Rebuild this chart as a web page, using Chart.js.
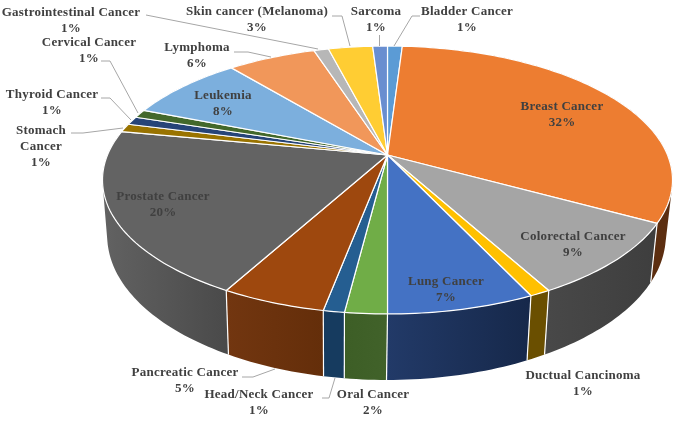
<!DOCTYPE html>
<html>
<head>
<meta charset="utf-8">
<title>Cancer types</title>
<script src="https://cdn.jsdelivr.net/npm/chart.js@4"></script>
<style>
	html, body { margin: 0; padding: 0; background: #fff; }
	canvas { display: block; }
</style>
</head>
<body>
<canvas id="pie3d" width="677" height="421"></canvas>
<script>
const categories = ['Bladder Cancer', 'Breast Cancer', 'Colorectal Cancer', 'Ductual Cancinoma', 'Lung Cancer', 'Oral Cancer', 'Head/Neck Cancer', 'Pancreatic Cancer', 'Prostate Cancer', 'Stomach Cancer', 'Thyroid Cancer', 'Cervical Cancer', 'Leukemia', 'Lymphoma', 'Gastrointestinal Cancer', 'Skin cancer (Melanoma)', 'Sarcoma'];
const shares = [1, 32, 9, 1, 7, 2, 1, 5, 20, 1, 1, 1, 8, 6, 1, 3, 1];
const topColors = ['#5B9BD5', '#ED7D31', '#A5A5A5', '#FFC000', '#4472C4', '#70AD47', '#255E91', '#9E480E', '#636363', '#997300', '#264478', '#43682B', '#7CAFDD', '#F1975A', '#B7B7B7', '#FFCD33', '#698ED0'];
const wallStart = ['#3a6488', '#5c2e10', '#3e3e3e', '#6a4f00', '#16284a', '#41622a', '#163b5f', '#642e0a', '#4a4a4a', '#5c4500', '#16294a', '#2a4119', '#4a6a86', '#914f22', '#6e6e6e', '#997a1e', '#3f567d'];
const wallEnd = ['#3a6488', '#5c2e10', '#484848', '#6a4f00', '#223a68', '#3d5e26', '#163b5f', '#723610', '#626262', '#5c4500', '#16294a', '#2a4119', '#4a6a86', '#914f22', '#6e6e6e', '#997a1e', '#3f567d'];

// label text lines, anchor = centre x / centre y of the first line
const labelLines = {
	'Stomach Cancer': ['Stomach', 'Cancer']
};
const labelAnchors = {
	'Bladder Cancer': [467, 12], 'Breast Cancer': [562, 107], 'Colorectal Cancer': [573, 237],
	'Ductual Cancinoma': [583, 376], 'Lung Cancer': [446, 282], 'Oral Cancer': [373, 395],
	'Head/Neck Cancer': [259, 395], 'Pancreatic Cancer': [185, 373], 'Prostate Cancer': [163, 197],
	'Stomach Cancer': [41, 131], 'Thyroid Cancer': [52, 95], 'Cervical Cancer': [89, 43],
	'Leukemia': [223, 96], 'Lymphoma': [197, 48], 'Gastrointestinal Cancer': [71, 13],
	'Skin cancer (Melanoma)': [257, 12], 'Sarcoma': [376, 12]
};
const leaderLines = [
	[[146, 15], [318, 49]],
	[[332, 16], [342, 16], [350, 46]],
	[[379.5, 35], [379.5, 46]],
	[[420, 16], [412, 16], [394, 46]],
	[[101, 61], [110, 61], [138, 113]],
	[[101, 98], [110, 98], [131, 120]],
	[[71, 133], [83, 133], [123, 128]],
	[[234, 52], [248, 52], [271, 57]],
	[[242, 377], [253, 377], [275, 369]],
	[[322, 398], [329, 398], [335, 378]]
];

// perspective of the pie disc
const view = { cx: 387.5, cy: 155, R: 280, K: 129.3, p: 0.1866 };
const wall = { cx: 386.5, xScale: 0.98, yScale: 1.077, yShift: 41.8 };

function projectTop(u, v) {
	const s = 1 / (1 - view.p * v);
	return [view.cx + view.R * u * s, view.cy + view.K * v * s];
}

function projectBottom(pt) {
	return [wall.cx + wall.xScale * (pt[0] - view.cx), wall.yScale * pt[1] + wall.yShift];
}

// rim points of one arc element, from the angles Chart.js worked out
function rimPoints(arc) {
	const pts = [];
	const steps = Math.max(2, Math.ceil((arc.endAngle - arc.startAngle) / 0.02));
	for (let i = 0; i <= steps; i++) {
		const a = arc.startAngle + (arc.endAngle - arc.startAngle) * i / steps;
		pts.push(projectTop(Math.cos(a), Math.sin(a)));
	}
	return pts;
}

function quadArea(q) {
	let sum = 0;
	q.forEach((p, i) => {
		const next = q[(i + 1) % q.length];
		sum += p[0] * next[1] - next[0] * p[1];
	});
	return sum;
}

const pie3dPlugin = {
	id: 'pie3d',
	beforeDatasetDraw(chart, args) {
		const ctx = chart.ctx;
		const arcs = args.meta.data;
		ctx.save();
		ctx.lineJoin = 'round';

		// walls first, the top disc covers the back ones
		// all quads wound the same way in one path, so the folds at the left and right ends stay filled
		arcs.forEach((arc, i) => {
			const rim = rimPoints(arc);
			const low = rim.map(projectBottom);
			const xs = rim.map(p => p[0]);
			const grad = ctx.createLinearGradient(Math.min(...xs), 0, Math.max(...xs) + 0.01, 0);
			grad.addColorStop(0, wallEnd[i]);
			grad.addColorStop(1, wallStart[i]);
			ctx.beginPath();
			for (let n = 1; n < rim.length; n++) {
				const quad = [rim[n - 1], rim[n], low[n], low[n - 1]];
				if (quadArea(quad) < 0) quad.reverse();
				quad.forEach((p, k) => k ? ctx.lineTo(p[0], p[1]) : ctx.moveTo(p[0], p[1]));
				ctx.closePath();
			}
			ctx.fillStyle = grad;
			ctx.fill();
		});
		// white seams between the wall pieces
		ctx.strokeStyle = '#fff';
		ctx.lineWidth = 1.2;
		arcs.forEach(arc => {
			const start = rimPoints(arc)[0];
			const end = projectBottom(start);
			ctx.beginPath();
			ctx.moveTo(start[0], start[1]);
			ctx.lineTo(end[0], end[1]);
			ctx.stroke();
		});

		arcs.forEach((arc, i) => {
			ctx.beginPath();
			ctx.moveTo(view.cx, view.cy);
			rimPoints(arc).forEach(p => ctx.lineTo(p[0], p[1]));
			ctx.closePath();
			ctx.fillStyle = topColors[i];
			ctx.fill();
			ctx.strokeStyle = '#fff';
			ctx.lineWidth = 1.2;
			ctx.stroke();
		});
		ctx.restore();
		return false;
	},
	afterDraw(chart) {
		const ctx = chart.ctx;
		ctx.save();
		ctx.strokeStyle = '#a6a6a6';
		ctx.lineWidth = 1;
		leaderLines.forEach(line => {
			ctx.beginPath();
			line.forEach((p, n) => n ? ctx.lineTo(p[0], p[1]) : ctx.moveTo(p[0], p[1]));
			ctx.stroke();
		});

		ctx.font = 'bold 13px "Liberation Serif"';
		ctx.letterSpacing = '0.25px';
		ctx.fillStyle = '#404040';
		ctx.textAlign = 'center';
		ctx.textBaseline = 'middle';
		categories.forEach((name, i) => {
			const lines = (labelLines[name] || [name]).concat(shares[i] + '%');
			const anchor = labelAnchors[name];
			lines.forEach((text, n) => ctx.fillText(text, anchor[0], anchor[1] + n * 16));
		});
		ctx.restore();
	}
};

new Chart(document.getElementById('pie3d'), {
	type: 'pie',
	data: {
		labels: categories,
		datasets: [{ data: shares, backgroundColor: topColors }]
	},
	options: {
		responsive: false,
		animation: false,
		plugins: {
			legend: { display: false },
			tooltip: { enabled: false }
		}
	},
	plugins: [pie3dPlugin]
});
</script>
</body>
</html>
